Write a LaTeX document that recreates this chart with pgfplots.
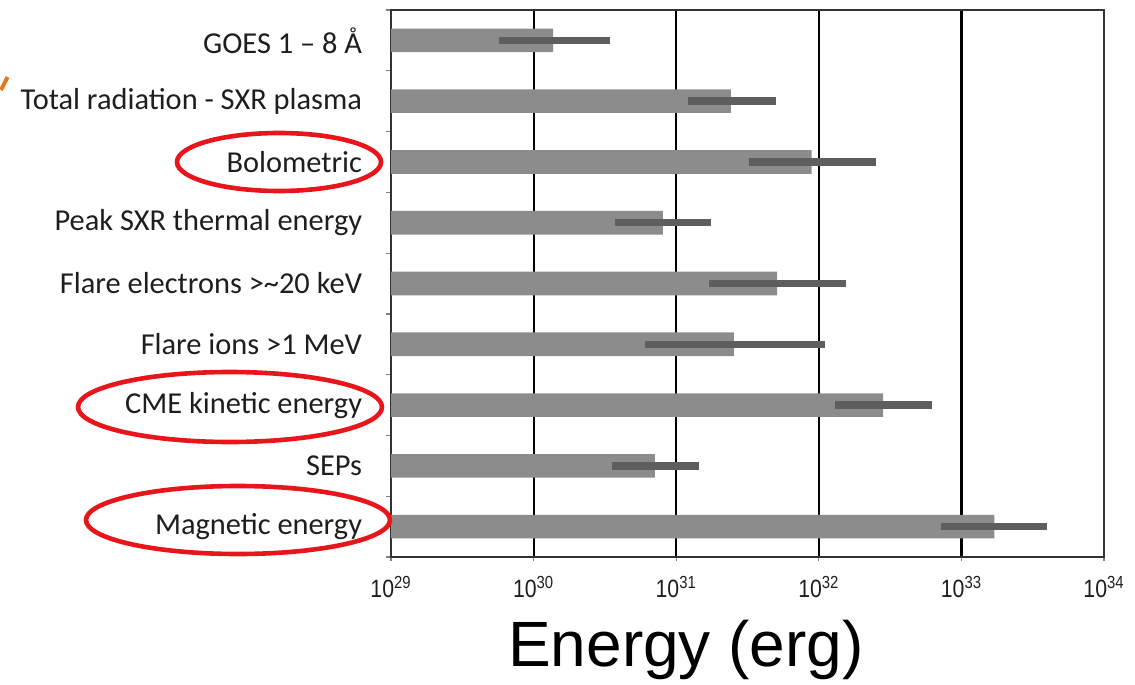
\documentclass[border=0pt]{standalone}
\usepackage{pgfplots}
\pgfplotsset{compat=1.18}
\usepackage{pgfplotstable}
\usepackage{fontspec}
\setmainfont{Carlito}
\newfontfamily\arialfont{Liberation Sans}
\newfontfamily\narrowfont[FakeStretch=0.85]{Liberation Sans}
\definecolor{bargray}{HTML}{8C8C8C}
\definecolor{errgray}{HTML}{5E5E5E}
\definecolor{ellred}{HTML}{E8161B}
\definecolor{accent}{HTML}{E87722}
\definecolor{labtext}{HTML}{1E1E1E}

% y: category position (0 = bottom), val: bar value
\pgfplotstableread{
y val
8 1.37e30
7 2.42e31
6 8.90e31
5 8.07e30
4 5.09e31
3 2.54e31
2 2.82e32
1 7.08e30
0 1.70e33
}\bardata

% ranges (dark bars): lo and hi end of each range, rows separated by nan
\pgfplotstableread{
x y
5.71e29 8
3.44e30 8
nan nan
1.21e31 7
5.01e31 7
nan nan
3.24e31 6
2.51e32 6
nan nan
3.72e30 5
1.75e31 5
nan nan
1.70e31 4
1.55e32 4
nan nan
6.03e30 3
1.10e32 3
nan nan
1.29e32 2
6.17e32 2
nan nan
3.55e30 1
1.45e31 1
nan nan
7.19e32 0
3.98e33 0
}\rangedata

\begin{document}
\begin{tikzpicture}
\useasboundingbox (0pt,0pt) rectangle (567.5pt,-342.5pt);
\begin{axis}[
  at={(195.5pt,-278.5pt)}, anchor=south west, scale only axis,
  width=356.5pt, height=273.5pt,
  xmode=log, log basis x=10, xmin=1e29, xmax=1e34,
  ymin=-0.5, ymax=8.5,
  xtick={1e29,1e30,1e31,1e32,1e33,1e34},
  xticklabels={10\textsuperscript{29},10\textsuperscript{30},10\textsuperscript{31},10\textsuperscript{32},10\textsuperscript{33},10\textsuperscript{34}},
  xminorticks=false,
  xmajorgrids, major grid style={black, line width=1.1pt},
  ytick={0,...,8},
  yticklabels={Magnetic energy, SEPs, CME kinetic energy, Flare ions >1 MeV, Flare electrons >\textasciitilde20 keV, Peak SXR thermal energy, Bolometric, Total radiation - SXR plasma, GOES 1 – 8 Å},
  minor ytick={-0.5,0.5,...,8.5},
  tick pos=left, tick align=outside,
  major tick length=2pt, minor tick length=2.5pt,
  major y tick style={draw=none},
  minor y tick style={draw=gray, line width=0.6pt},
  major x tick style={draw=gray, line width=0.6pt},
  axis line style={draw=black!80, line width=0.8pt},
  yticklabel style={font=\fontsize{15.2}{17}\selectfont, text=labtext, xshift=-9pt},
  xticklabel style={font=\narrowfont\fontsize{12.5}{14}\selectfont, text=labtext, yshift=-4pt},
  unbounded coords=jump,
]
\addplot[xbar, bar width=11.8pt, fill=bargray, draw=none]
  table[x=val, y=y] {\bardata};
\addplot[sharp plot, no markers, color=errgray, line width=3.7pt]
  table[x=x, y=y] {\rangedata};
\end{axis}
% annotations
\draw[ellred, line width=2.3pt] (139.5pt,-81pt) ellipse [x radius=51pt, y radius=14.5pt];
\draw[ellred, line width=2.3pt] (115pt,-203.5pt) ellipse [x radius=76pt, y radius=17.5pt];
\draw[ellred, line width=2.3pt] (119pt,-260pt) ellipse [x radius=76pt, y radius=17pt];
\draw[accent, line width=2pt] (0.5pt,-45pt) -- (3.8pt,-38.5pt);
\node[font=\arialfont\fontsize{32}{36}\selectfont] at (343pt,-325pt) {Energy (erg)};
\end{tikzpicture}
\end{document}
